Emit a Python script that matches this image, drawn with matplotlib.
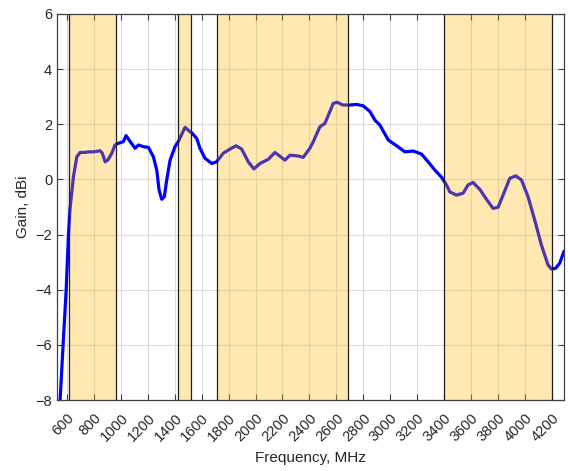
import matplotlib
matplotlib.use("Agg")
import matplotlib.pyplot as plt
import matplotlib.transforms as mtransforms

# --- data ---
freq_mhz = [540, 548, 570, 593, 610, 622, 647, 672, 697, 734, 758, 795, 845, 862,
            882, 902, 932, 956, 981, 1018, 1038, 1060, 1105, 1130, 1166, 1204,
            1241, 1266, 1283, 1303, 1322, 1340, 1365, 1402, 1426, 1476, 1513,
            1526, 1563, 1587, 1624, 1674, 1711, 1760, 1810, 1855, 1897, 1946,
            1988, 2033, 2095, 2144, 2218, 2256, 2317, 2354, 2404, 2429, 2478,
            2515, 2547, 2577, 2607, 2647, 2701, 2751, 2800, 2850, 2887, 2924,
            2986, 3048, 3109, 3171, 3233, 3282, 3332, 3382, 3419, 3443, 3493,
            3542, 3579, 3616, 3666, 3716, 3765, 3802, 3839, 3889, 3933, 3976,
            4025, 4074, 4124, 4173, 4198, 4230, 4260, 4292]
gain_dbi = [-8.6, -8.0, -6.0, -4.0, -2.0, -1.05, 0.1, 0.82, 0.98, 0.98, 1.0, 1.0, 1.04, 0.95,
            0.64, 0.70, 0.95, 1.25, 1.31, 1.37, 1.59, 1.43, 1.13, 1.25, 1.19, 1.16,
            0.82, 0.34, -0.38, -0.72, -0.63, -0.02, 0.70, 1.19, 1.37, 1.89, 1.73,
            1.69, 1.49, 1.13, 0.77, 0.58, 0.64, 0.95, 1.10, 1.22, 1.10, 0.64,
            0.38, 0.58, 0.73, 0.98, 0.70, 0.88, 0.85, 0.80, 1.13, 1.37, 1.91,
            2.03, 2.40, 2.76, 2.80, 2.70, 2.70, 2.72, 2.67, 2.46, 2.15, 1.97,
            1.43, 1.22, 1.00, 1.03, 0.92, 0.64, 0.34, 0.08, -0.20, -0.45, -0.57,
            -0.50, -0.20, -0.11, -0.36, -0.72, -1.05, -1.01, -0.57, 0.04, 0.13, -0.02,
            -0.63, -1.47, -2.38, -3.10, -3.25, -3.22, -3.04, -2.60]

# frequency bands (MHz) that are shaded
bands = [(617, 960), (1427, 1518), (1710, 2690), (3400, 4200)]

x_ticks = list(range(600, 4201, 200))
y_ticks = list(range(-8, 7, 2))

plt.rcParams['font.family'] = ['Liberation Sans', 'DejaVu Sans']
txt = '#262626'

fig = plt.figure(figsize=(5.68, 4.71), dpi=100)
ax = fig.add_axes([0.1004, 0.1507, 0.8926, 0.8196])

ax.plot(freq_mhz, gain_dbi, color='#0000FF', lw=2.3, zorder=2,
        solid_joinstyle='round', solid_capstyle='round')

for lo, hi in bands:
    ax.axvspan(lo, hi, facecolor='#FFB300', alpha=0.3, edgecolor='none', zorder=3)
    ax.axvline(lo, color='#202020', lw=0.9, zorder=4)
    ax.axvline(hi, color='#202020', lw=0.9, zorder=4)

ax.set_xlim(525, 4292)
ax.set_ylim(-8, 6)
ax.set_xticks(x_ticks)
ax.set_yticks(y_ticks)
ax.set_xticklabels([str(v) for v in x_ticks], rotation=45, ha='right', va='top',
                   rotation_mode='anchor')
shift = mtransforms.ScaledTranslation(3 / 72, 0, fig.dpi_scale_trans)
for lab in ax.get_xticklabels():
    lab.set_transform(lab.get_transform() + shift)

ax.grid(True, color='#DCDCDC', lw=0.8, zorder=0)
ax.set_axisbelow(True)

ax.tick_params(direction='in', length=4, width=0.8, colors='#404040',
               labelcolor=txt, labelsize=10.5, top=True, right=True)
ax.tick_params(axis='x', pad=8)
for s in ax.spines.values():
    s.set_color('#404040')
    s.set_linewidth(0.9)
    s.set_zorder(5)

ax.set_xlabel('Frequency, MHz', fontsize=11, color=txt, labelpad=5)
ax.set_ylabel('Gain, dBi', fontsize=11, color=txt, labelpad=4)

fig.savefig('out.png', dpi=100)
